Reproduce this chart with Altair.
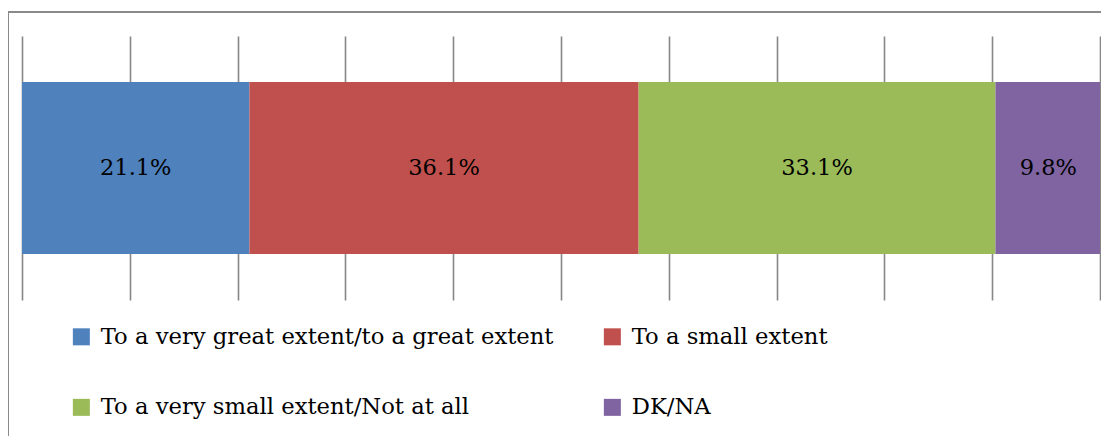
import altair as alt
import pandas as pd

categories = [
    "To a very great extent/to a great extent",
    "To a small extent",
    "To a very small extent/Not at all",
    "DK/NA",
]
values = [21.1, 36.1, 33.1, 9.8]
colors = ["#4F81BD", "#C0504D", "#9BBB59", "#8064A2"]
grid_ticks = list(range(0, 101, 10))

df = pd.DataFrame({
    "cat": categories,
    "value": values,
    "order": list(range(len(categories))),
    "row": ["all"] * len(categories),
})

FONT = "DejaVu Serif"
W, H = 1078, 264

x_scale = alt.Scale(domain=[0, 100], clamp=True, nice=False, zero=True)
y_scale = alt.Scale(paddingInner=0, paddingOuter=0.2674)
x_axis = alt.Axis(
    values=grid_ticks, grid=True, gridColor="#878787", gridWidth=1.6,
    gridOpacity=1, labels=False, ticks=False, domain=False, title=None,
)

base = alt.Chart(df)

bars = base.mark_bar(strokeWidth=0).encode(
    x=alt.X("value:Q", stack="zero", scale=x_scale, axis=x_axis),
    y=alt.Y("row:N", scale=y_scale, axis=None),
    color=alt.Color(
        "cat:N",
        scale=alt.Scale(domain=categories, range=colors),
        legend=alt.Legend(
            orient="none", legendX=48, legendY=289, columns=2,
            direction="horizontal",
            columnPadding=47, rowPadding=47, symbolType="square",
            symbolSize=289, symbolStrokeWidth=0, labelFont=FONT,
            labelFontSize=22.7, labelColor="#000000", labelLimit=0,
            labelOffset=8, title=None, padding=0, symbolOpacity=1,
        ),
    ),
    order=alt.Order("order:Q"),
)

labels = base.transform_window(
    cum="sum(value)", sort=[alt.SortField("order")]
).transform_calculate(
    mid="datum.cum - datum.value / 2",
    label="format(datum.value, '.1f') + '%'",
).mark_text(font=FONT, fontSize=22.5, color="#000000").encode(
    x=alt.X("mid:Q", scale=x_scale, axis=x_axis),
    y=alt.Y("row:N", scale=y_scale, axis=None),
    text="label:N",
)

frame_df = pd.DataFrame({"k": [0]})
frame_v = alt.Chart(frame_df).mark_rule(color="#8a8a8a", strokeWidth=2).encode(
    x=alt.value(-14), y=alt.value(-24), y2=alt.value(440)
)
frame_h = alt.Chart(frame_df).mark_rule(color="#8a8a8a", strokeWidth=2).encode(
    x=alt.value(-14), x2=alt.value(1100), y=alt.value(-24)
)

chart = alt.layer(bars, labels, frame_v, frame_h).properties(
    width=W,
    height=H,
    autosize=alt.AutoSizeParams(type="none"),
    padding={"left": 14, "top": 28, "right": 1, "bottom": 136},
    background="white",
).configure_view(stroke=None)

chart.save("out.html", embed_options={"renderer": "svg", "actions": False})
